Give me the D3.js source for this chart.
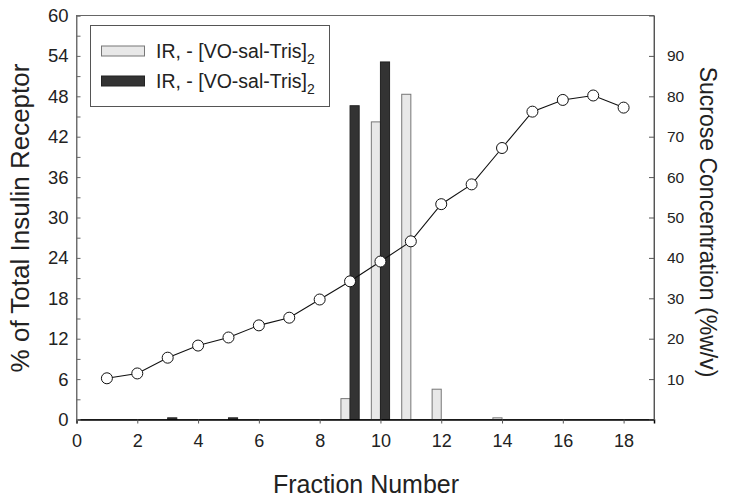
<!DOCTYPE html>
<html><head><meta charset="utf-8">
<script src="https://cdn.jsdelivr.net/npm/d3@7"></script>
<style>body{margin:0;background:#fff}svg{display:block}text{font-family:"Liberation Sans",Arial,sans-serif}</style>
</head><body><svg id="c" width="729" height="502"></svg>
<script>
const fractions = [1,2,3,4,5,6,7,8,9,10,11,12,13,14,15,16,17,18];
const sucrose = [10.2,11.4,15.3,18.3,20.3,23.3,25.2,29.7,34.2,39.1,44.1,53.3,58.2,67.2,76.2,79.1,80.2,77.2];
const barFractions = [1,2,3,4,5,6,7,8,9,10,11,12,13,14,15,16,17,18];
const irLight = [0,0,0,0,0,0,0,0,3.1,44.2,48.3,4.5,0,0.25,0,0,0,0];
const irDark = [0,0,0.25,0,0.25,0,0,0,46.6,53.1,0,0,0,0,0,0,0,0];
const legendLabels = ["IR, - [VO-sal-Tris]", "IR, - [VO-sal-Tris]"];
const xTicks = [0,2,4,6,8,10,12,14,16,18];
const leftTicks = d3.range(0,61,3);
const leftLabels = [0,6,12,18,24,30,36,42,48,54,60];
const rightTicks = [10,20,30,40,50,60,70,80,90];

const svg = d3.select("#c");
const L=76.5, R=654, T=15.5, B=419.5;
const x = d3.scaleLinear().domain([0,19]).range([L,R]);
const yL = d3.scaleLinear().domain([0,60]).range([B,T]);
const yR = d3.scaleLinear().domain([0,100]).range([B,T]);
const bw = x(0.3)-x(0);

// frame
svg.append("rect").attr("x",L).attr("y",T).attr("width",R-L).attr("height",B-T)
  .attr("fill","none").attr("stroke","#666").attr("stroke-width",1);

// bars
const g = svg.append("g");
g.selectAll("rect.l").data(barFractions.map((f,i)=>({f,v:irLight[i]})).filter(d=>d.v>0)).join("rect")
  .attr("x",d=>x(d.f)-bw).attr("width",bw).attr("y",d=>yL(d.v)).attr("height",d=>yL(0)-yL(d.v))
  .attr("fill","#e8e8e8").attr("stroke","#777").attr("stroke-width",1);
g.selectAll("rect.d").data(barFractions.map((f,i)=>({f,v:irDark[i]})).filter(d=>d.v>0)).join("rect")
  .attr("x",d=>x(d.f)).attr("width",bw).attr("y",d=>yL(d.v)).attr("height",d=>yL(0)-yL(d.v))
  .attr("fill","#333").attr("stroke","#222").attr("stroke-width",1);

// axes
const xa = svg.append("g").attr("transform",`translate(0,${B})`)
  .call(d3.axisBottom(x).tickValues(xTicks).tickSize(4).tickPadding(11).tickFormat(d3.format("d")));
xa.select(".domain").attr("stroke","#000").attr("stroke-width",1.5);
xa.selectAll(".tick line").attr("stroke","#555");
xa.selectAll("text").attr("font-size",18).attr("fill","#222").attr("font-family","Liberation Sans, Arial");

const la = svg.append("g").attr("transform",`translate(${L},0)`)
  .call(d3.axisLeft(yL).tickValues(leftTicks).tickSize(-4).tickPadding(8)
    .tickFormat(d=>leftLabels.includes(d)?d:""));
la.select(".domain").attr("stroke","#777");
la.selectAll(".tick line").attr("stroke","#666");
la.selectAll("text").attr("font-size",18.5).attr("fill","#222").attr("font-family","Liberation Sans, Arial");

const ra = svg.append("g").attr("transform",`translate(${R},0)`)
  .call(d3.axisRight(yR).tickValues(rightTicks).tickSize(-5).tickPadding(13));
ra.select(".domain").attr("stroke","#555");
ra.selectAll(".tick line").attr("stroke","#555");
ra.selectAll("text").attr("font-size",15.5).attr("fill","#222").attr("font-family","Liberation Sans, Arial");

// line
const line = d3.line().x((d,i)=>x(fractions[i])).y(d=>yR(d));
svg.append("path").datum(sucrose).attr("d",line).attr("fill","none").attr("stroke","#111").attr("stroke-width",1.1);
svg.selectAll("circle").data(sucrose).join("circle")
  .attr("cx",(d,i)=>x(fractions[i])).attr("cy",d=>yR(d)).attr("r",5.5)
  .attr("fill","#fff").attr("stroke","#111").attr("stroke-width",1);

// legend
const lg = svg.append("g");
lg.append("rect").attr("x",90.5).attr("y",25.5).attr("width",239).attr("height",81)
  .attr("fill","#fff").attr("stroke","#555");
const swFill=["#e8e8e8","#333"], swStroke=["#777","#222"];
legendLabels.forEach((t,i)=>{
  const cy = 51 + i*30;
  lg.append("rect").attr("x",101.5).attr("y",cy-5).attr("width",43).attr("height",10)
    .attr("fill",swFill[i]).attr("stroke",swStroke[i]);
  const tx = lg.append("text").attr("x",156).attr("y",cy+7).attr("font-size",19.5).attr("fill","#222");
  tx.append("tspan").text(t);
  tx.append("tspan").attr("dy",6).attr("font-size",14).text("2");
});

// titles
svg.append("text").attr("x",366).attr("y",493).attr("text-anchor","middle").attr("font-size",25).attr("fill","#222").text("Fraction Number");
svg.append("text").attr("transform","translate(29,218) rotate(-90)").attr("text-anchor","middle").attr("font-size",26).attr("fill","#222").text("% of Total Insulin Receptor");
svg.append("text").attr("transform","translate(700,222) rotate(90)").attr("text-anchor","middle").attr("font-size",23).attr("fill","#222").text("Sucrose Concentration (%w/v)");
</script></body></html>
